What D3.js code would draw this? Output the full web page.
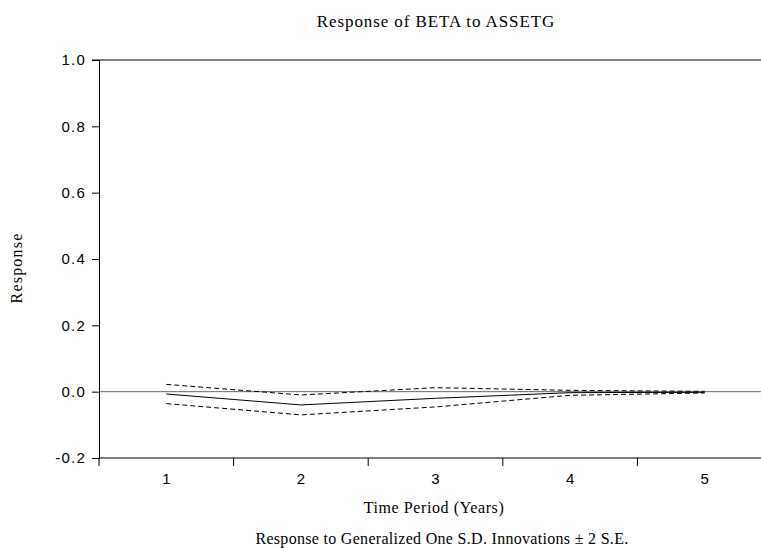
<!DOCTYPE html>
<html><head><meta charset="utf-8">
<script src="https://cdn.jsdelivr.net/npm/d3@7"></script>
<style>body{margin:0;background:#fff}svg{display:block}</style>
</head><body>
<script>
const periods = [1, 2, 3, 4, 5];
const response = [-0.007, -0.040, -0.020, -0.003, -0.002];
const upper = [0.022, -0.010, 0.012, 0.004, 0.001];
const lower = [-0.036, -0.070, -0.046, -0.011, -0.004];
const yTicks = [-0.2, 0.0, 0.2, 0.4, 0.6, 0.8, 1.0];
const title = "Response of BETA to ASSETG";
const xTitle = "Time Period (Years)";
const yTitle = "Response";
const caption = "Response to Generalized One S.D. Innovations \u00b1 2 S.E.";

(function () {
const W = 761, H = 548;
const svg = d3.select("body").append("svg").attr("width", W).attr("height", H);
const pLeft = 99, pTop = 60, pBottom = 458, bandRight = 772;
const x = d3.scaleBand().domain(periods).range([pLeft, bandRight]);
const y = d3.scaleLinear().domain([-0.2, 1.0]).range([pBottom, pTop]);
const cx = d => x(d) + x.bandwidth() / 2;
const sans = "Liberation Sans, Arial, sans-serif";
const serif = "Liberation Serif, Times New Roman, serif";
const fmt = d => d3.format(".1f")(d).replace("\u2212", "-");

// zero line
svg.append("line").attr("x1", pLeft).attr("x2", W).attr("y1", y(0)).attr("y2", y(0))
  .attr("stroke", "#666").attr("stroke-width", 1);
// top border
svg.append("line").attr("x1", pLeft - 7).attr("x2", W).attr("y1", pTop).attr("y2", pTop)
  .attr("stroke", "#000").attr("stroke-width", 1);

// y axis
const ya = svg.append("g").attr("transform", `translate(${pLeft},0)`)
  .call(d3.axisLeft(y).tickValues(yTicks).tickFormat(fmt).tickSizeOuter(0).tickSize(7).tickPadding(6));
ya.select(".domain").attr("stroke", "#000");
ya.selectAll("text").attr("font-family", sans).attr("font-size", 15)
  .attr("letter-spacing", 1.2).attr("fill", "#000");

// x axis: ticks at band boundaries
const xa = svg.append("g").attr("transform", `translate(0,${pBottom})`);
xa.append("line").attr("x1", pLeft).attr("x2", W).attr("y1", 0).attr("y2", 0).attr("stroke", "#000");
periods.forEach(p => {
  xa.append("line").attr("x1", x(p)).attr("x2", x(p)).attr("y1", 0).attr("y2", 8).attr("stroke", "#000");
  xa.append("text").attr("x", cx(p)).attr("y", 26).attr("text-anchor", "middle")
    .attr("font-family", sans).attr("font-size", 15).text(p);
});

const line = d3.line().x((d, i) => cx(periods[i])).y(d => y(d));
svg.append("path").datum(upper).attr("d", line).attr("fill", "none").attr("stroke", "#000")
  .attr("stroke-width", 1).attr("stroke-dasharray", "5,3");
svg.append("path").datum(lower).attr("d", line).attr("fill", "none").attr("stroke", "#000")
  .attr("stroke-width", 1).attr("stroke-dasharray", "5,3");
svg.append("path").datum(response).attr("d", line).attr("fill", "none").attr("stroke", "#000")
  .attr("stroke-width", 1);

svg.append("text").attr("x", 436).attr("y", 27).attr("text-anchor", "middle")
  .attr("font-family", serif).attr("font-size", 17).attr("letter-spacing", 0.9).text(title);
svg.append("text").attr("x", 434).attr("y", 513).attr("text-anchor", "middle")
  .attr("font-family", serif).attr("font-size", 16).attr("letter-spacing", 0.6).text(xTitle);
svg.append("text").attr("x", 442).attr("y", 544).attr("text-anchor", "middle")
  .attr("font-family", serif).attr("font-size", 16).attr("letter-spacing", 0.3).text(caption);
svg.append("text").attr("transform", "translate(22,268) rotate(-90)").attr("text-anchor", "middle")
  .attr("font-family", serif).attr("font-size", 16).attr("letter-spacing", 1.2).text(yTitle);
})();
</script>
</body></html>
